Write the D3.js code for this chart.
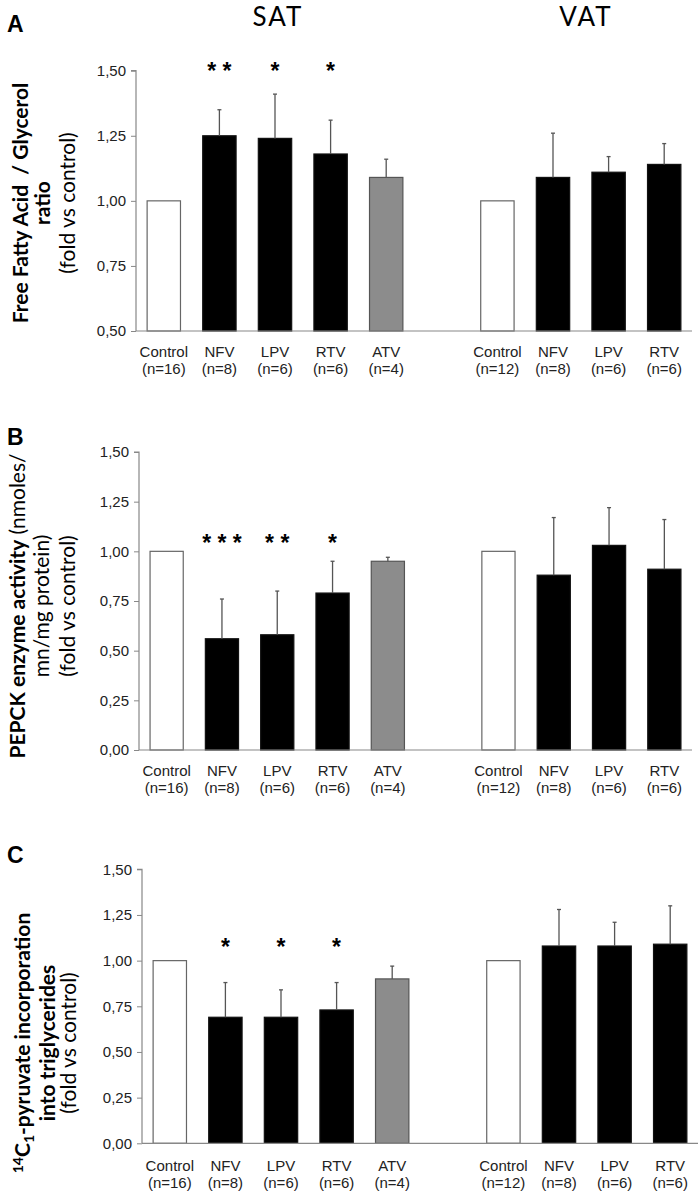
<!DOCTYPE html>
<html><head><meta charset="utf-8">
<script src="https://cdn.jsdelivr.net/npm/d3@7"></script>
<style>
html,body{margin:0;padding:0;background:#fff;}
svg{display:block;}
</style></head>
<body>
<script>
// ---- data ----
const satCategories = ["Control","NFV","LPV","RTV","ATV"];
const satN = ["(n=16)","(n=8)","(n=6)","(n=6)","(n=4)"];
const vatCategories = ["Control","NFV","LPV","RTV"];
const vatN = ["(n=12)","(n=8)","(n=6)","(n=6)"];

const ffaSat = [1.00, 1.25, 1.24, 1.18, 1.09];
const ffaSatErr = [0, 0.10, 0.17, 0.13, 0.07];
const ffaSatStars = ["", "**", "*", "*", ""];
const ffaVat = [1.00, 1.09, 1.11, 1.14];
const ffaVatErr = [0, 0.17, 0.06, 0.08];

const pepckSat = [1.00, 0.56, 0.58, 0.79, 0.95];
const pepckSatErr = [0, 0.20, 0.22, 0.16, 0.02];
const pepckSatStars = ["", "***", "**", "*", ""];
const pepckVat = [1.00, 0.88, 1.03, 0.91];
const pepckVatErr = [0, 0.29, 0.19, 0.25];

const pyrSat = [1.00, 0.69, 0.69, 0.73, 0.90];
const pyrSatErr = [0, 0.19, 0.15, 0.15, 0.07];
const pyrSatStars = ["", "*", "*", "*", ""];
const pyrVat = [1.00, 1.08, 1.08, 1.09];
const pyrVatErr = [0, 0.20, 0.13, 0.21];

const ticksA = [0.50, 0.75, 1.00, 1.25, 1.50];
const ticksBC = [0.00, 0.25, 0.50, 0.75, 1.00, 1.25, 1.50];

const W = 700, H = 1192;
const svg = d3.select("body").append("svg").attr("width", W).attr("height", H);

const fmt = v => d3.format(".2f")(v).replace(".", ",");
const colorFor = cat => cat === "Control" ? "#fff" : (cat === "ATV" ? "#8c8c8c" : "#000");
const strokeFor = cat => cat === "Control" ? "#666" : (cat === "ATV" ? "#555" : "#111");
const SANS = "'Liberation Sans', Arial, sans-serif";

function panel(cfg) {
  const slots = [];
  satCategories.forEach((c, i) => slots.push({key: "S" + i, cat: c, n: satN[i], v: cfg.sat[i], e: cfg.satErr[i], star: cfg.stars[i]}));
  slots.push({key: "gap", empty: true});
  vatCategories.forEach((c, i) => slots.push({key: "V" + i, cat: c, n: vatN[i], v: cfg.vat[i], e: cfg.vatErr[i], star: ""}));

  const x = d3.scaleBand().domain(slots.map(d => d.key)).range(cfg.xr).paddingInner(0.4).paddingOuter(0.2);
  const y = d3.scaleLinear().domain(cfg.domain).range(cfg.yr);
  const g = svg.append("g");
  const bars = slots.filter(d => !d.empty);
  const cx = d => x(d.key) + x.bandwidth() / 2;

  // y axis
  const yAxis = d3.axisLeft(y).tickValues(cfg.ticks).tickFormat(fmt).tickSize(5).tickPadding(5);
  const ya = g.append("g").attr("transform", `translate(${cfg.xr[0]},0)`).call(yAxis);
  ya.select(".domain").attr("stroke", "#888").attr("stroke-width", 1.2).attr("d", `M-5,${cfg.yr[1]}H0V${cfg.yr[0]}`);
  ya.selectAll(".tick line").attr("stroke", "#888");
  ya.selectAll(".tick text").attr("fill", "#222").style("font-family", SANS).style("font-size", "15px");

  // bars
  g.selectAll("rect.bar").data(bars).join("rect")
    .attr("x", d => x(d.key)).attr("width", x.bandwidth())
    .attr("y", d => y(d.v)).attr("height", d => y(cfg.domain[0]) - y(d.v))
    .attr("fill", d => colorFor(d.cat))
    .attr("stroke", d => strokeFor(d.cat)).attr("stroke-width", 1.2);

  // error bars
  const eb = bars.filter(d => d.e > 0);
  g.selectAll("line.err").data(eb).join("line")
    .attr("x1", cx).attr("x2", cx)
    .attr("y1", d => y(d.v)).attr("y2", d => y(d.v + d.e))
    .attr("stroke", "#555").attr("stroke-width", 1.3);
  g.selectAll("line.cap").data(eb).join("line")
    .attr("x1", d => cx(d) - 2).attr("x2", d => cx(d) + 2)
    .attr("y1", d => y(d.v + d.e)).attr("y2", d => y(d.v + d.e))
    .attr("stroke", "#555").attr("stroke-width", 1.3);

  // x axis line
  g.append("line").attr("x1", cfg.xr[0]).attr("x2", cfg.xr[1])
    .attr("y1", y(cfg.domain[0])).attr("y2", y(cfg.domain[0]))
    .attr("stroke", "#888").attr("stroke-width", 1.2);

  // category labels
  const lab = g.selectAll("text.cat").data(bars).join("text")
    .attr("text-anchor", "middle")
    .style("font-family", SANS).style("font-size", "15px").attr("fill", "#222");
  lab.append("tspan").attr("x", cx).attr("y", cfg.labY).text(d => d.cat);
  lab.append("tspan").attr("x", cx).attr("y", cfg.labY + 17).text(d => d.n);

  // stars
  g.selectAll("text.star").data(bars.filter(d => d.star)).join("text")
    .attr("x", cx).attr("y", cfg.starY)
    .attr("text-anchor", "middle")
    .style("font-family", SANS).style("font-weight", "bold").style("font-size", "23px").attr("fill", "#000")
    .text(d => d.star.split("").join(" "));

  // panel letter
  svg.append("text").attr("x", 7).attr("y", cfg.letterY).text(cfg.letter)
    .style("font-family", SANS).style("font-weight", "bold").style("font-size", "23px");
  return g;
}

// titles
svg.append("text").attr("x", 278).attr("y", 26).attr("text-anchor", "middle").text("SAT")
  .style("font-family", "Lato, sans-serif").style("font-size", "26px").style("letter-spacing", "2px");
svg.append("text").attr("x", 586).attr("y", 26).attr("text-anchor", "middle").text("VAT")
  .style("font-family", "Lato, sans-serif").style("font-size", "26px").style("letter-spacing", "2px");

panel({sat: ffaSat, satErr: ffaSatErr, vat: ffaVat, vatErr: ffaVatErr, stars: ffaSatStars,
  xr: [136, 692], yr: [331, 70.7], domain: [0.5, 1.5], ticks: ticksA, labY: 357, starY: 79, letter: "A", letterY: 32});
panel({sat: pepckSat, satErr: pepckSatErr, vat: pepckVat, vatErr: pepckVatErr, stars: pepckSatStars,
  xr: [139, 692], yr: [750, 452], domain: [0, 1.5], ticks: ticksBC, labY: 776, starY: 551, letter: "B", letterY: 445});
panel({sat: pyrSat, satErr: pyrSatErr, vat: pyrVat, vatErr: pyrVatErr, stars: pyrSatStars,
  xr: [142, 698], yr: [1143.3, 869.3], domain: [0, 1.5], ticks: ticksBC, labY: 1171, starY: 955, letter: "C", letterY: 863});

// rotated y titles
function rtitle(cx, cy, lines) {
  const t = svg.append("text").attr("transform", `translate(${cx},${cy}) rotate(-90)`)
    .attr("text-anchor", "middle").style("font-family", "Lato, sans-serif").style("font-size", "21px")
    .style("white-space", "pre").attr("fill", "#000");
  lines.forEach(l => {
    l.parts.forEach((p, i) => {
      const s = t.append("tspan").text(p.t).style("font-weight", p.b ? "bold" : "normal");
      if (i === 0) s.attr("x", 0).attr("y", l.y + (p.dy || 0));
      else if (p.dy !== undefined) s.attr("dy", p.dy);
      if (p.size) s.style("font-size", p.size);
    });
  });
}

rtitle(0, 203, [
  {y: 28, parts: [{t: "Free Fatty Acid  / Glycerol", b: true}]},
  {y: 50, parts: [{t: "ratio", b: true}]},
  {y: 75, parts: [{t: "(fold vs control)", b: false}]}
]);
rtitle(0, 606, [
  {y: 25, parts: [{t: "PEPCK enzyme activity", b: true}, {t: " (nmoles/", b: false}]},
  {y: 49, parts: [{t: "mn/mg protein)", b: false}]},
  {y: 75, parts: [{t: "(fold vs control)", b: false}]}
]);
rtitle(0, 1043, [
  {y: 30, parts: [{t: "14", b: true, size: "14px", dy: -7}, {t: "C", b: true, dy: 7}, {t: "1", b: true, size: "14px", dy: 4}, {t: "-pyruvate incorporation", b: true, dy: -4}]},
  {y: 55, parts: [{t: "into triglycerides", b: true}]},
  {y: 76, parts: [{t: "(fold vs control)", b: false}]}
]);
</script>
</body></html>
